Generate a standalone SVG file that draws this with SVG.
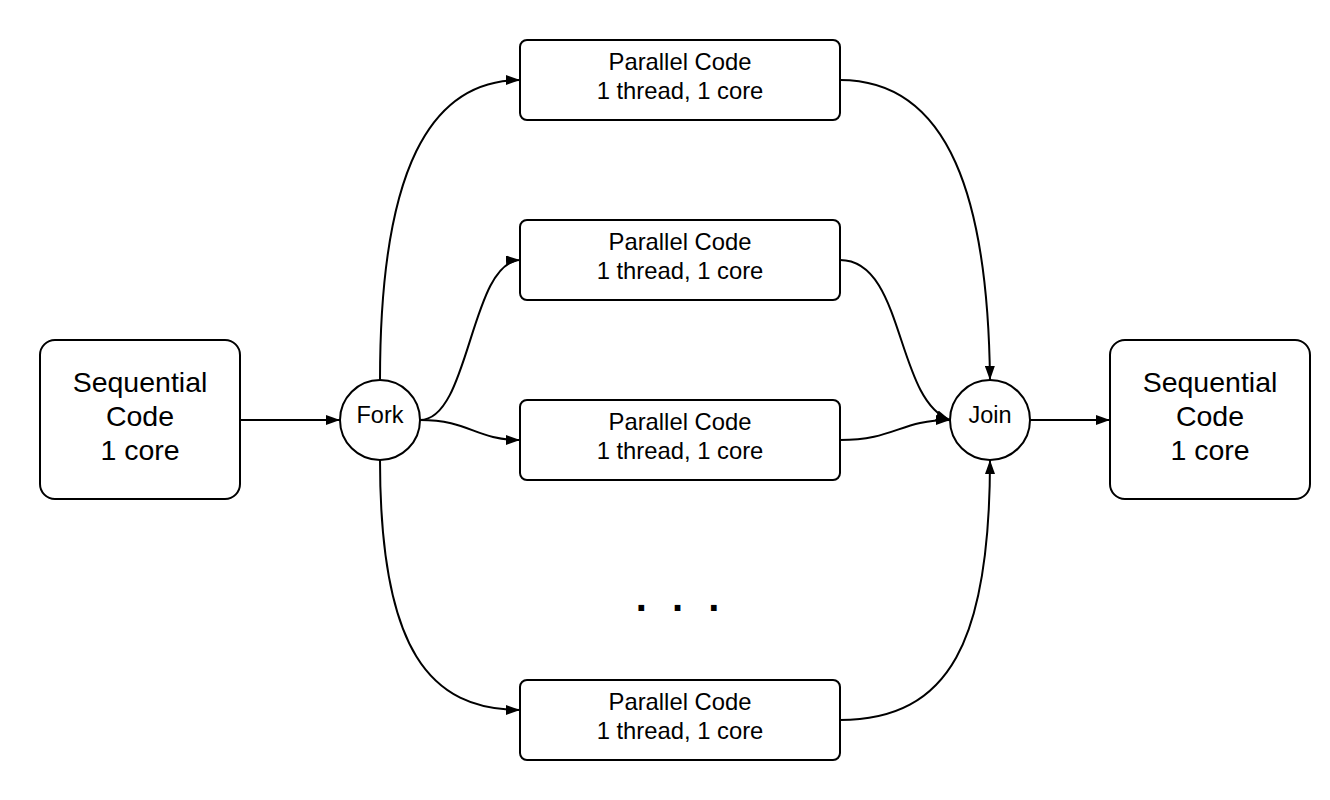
<svg xmlns="http://www.w3.org/2000/svg" width="1330" height="800" viewBox="0 0 1330 800">
<style>
.box{fill:#fff;stroke:#000;stroke-width:2}
.t{font-family:"Liberation Sans",Arial,sans-serif;fill:#000;text-anchor:middle}
.big{font-size:28.5px}
.med{font-size:23.8px}
.sm{font-size:23.5px}
.c{fill:none;stroke:#000;stroke-width:2}
</style>
<defs>
<marker id="a" viewBox="0 0 14 10" refX="14" refY="5" markerWidth="14" markerHeight="10" markerUnits="userSpaceOnUse" orient="auto">
<path d="M0,0 L14,5 L0,10 Z" fill="#000"/>
</marker>
</defs>
<rect width="1330" height="800" fill="#fff"/>
<g id="connectors">
<path class="c" marker-end="url(#a)" d="M240,420 L340,420"/>
<path class="c" marker-end="url(#a)" d="M380,380 C380,170 430,80 520,80"/>
<path class="c" marker-end="url(#a)" d="M420,420 C470,420 470,262 520,260"/>
<path class="c" marker-end="url(#a)" d="M420,420 C470,420 475,440 520,440"/>
<path class="c" marker-end="url(#a)" d="M380,460 C380,650 430,710 520,710"/>
<path class="c" marker-end="url(#a)" d="M840,80 C950,80 988,200 990,380"/>
<path class="c" marker-end="url(#a)" d="M840,260 C905,260 895,400 950,420"/>
<path class="c" marker-end="url(#a)" d="M840,440 C895,440 900,420 950,420"/>
<path class="c" marker-end="url(#a)" d="M840,720 C950,720 990,640 990,460"/>
<path class="c" marker-end="url(#a)" d="M1030,420 L1110,420"/>
</g>
<g id="seq1">
<rect class="box" x="40" y="340" width="200" height="159" rx="15"/>
<text class="t big" x="140" y="392">Sequential</text>
<text class="t big" x="140" y="426">Code</text>
<text class="t big" x="140" y="460">1 core</text>
</g>
<g id="fork">
<circle class="box" cx="380" cy="420" r="40"/>
<text class="t sm" x="380" y="423">Fork</text>
</g>
<g id="par1">
<rect class="box" x="520" y="40" width="320" height="80" rx="7"/>
<text class="t med" x="680" y="70">Parallel Code</text>
<text class="t med" x="680" y="99">1 thread, 1 core</text>
</g>
<g id="par2">
<rect class="box" x="520" y="220" width="320" height="80" rx="7"/>
<text class="t med" x="680" y="250">Parallel Code</text>
<text class="t med" x="680" y="279">1 thread, 1 core</text>
</g>
<g id="par3">
<rect class="box" x="520" y="400" width="320" height="80" rx="7"/>
<text class="t med" x="680" y="430">Parallel Code</text>
<text class="t med" x="680" y="459">1 thread, 1 core</text>
</g>
<g id="par4">
<rect class="box" x="520" y="680" width="320" height="80" rx="7"/>
<text class="t med" x="680" y="710">Parallel Code</text>
<text class="t med" x="680" y="739">1 thread, 1 core</text>
</g>
<g id="dots">
<text class="t" x="681" y="611" style="font-size:40px;font-weight:bold;letter-spacing:7px">. . .</text>
</g>
<g id="join">
<circle class="box" cx="990" cy="420" r="40"/>
<text class="t sm" x="990" y="423">Join</text>
</g>
<g id="seq2">
<rect class="box" x="1110" y="340" width="200" height="159" rx="15"/>
<text class="t big" x="1210" y="392">Sequential</text>
<text class="t big" x="1210" y="426">Code</text>
<text class="t big" x="1210" y="460">1 core</text>
</g>
</svg>
